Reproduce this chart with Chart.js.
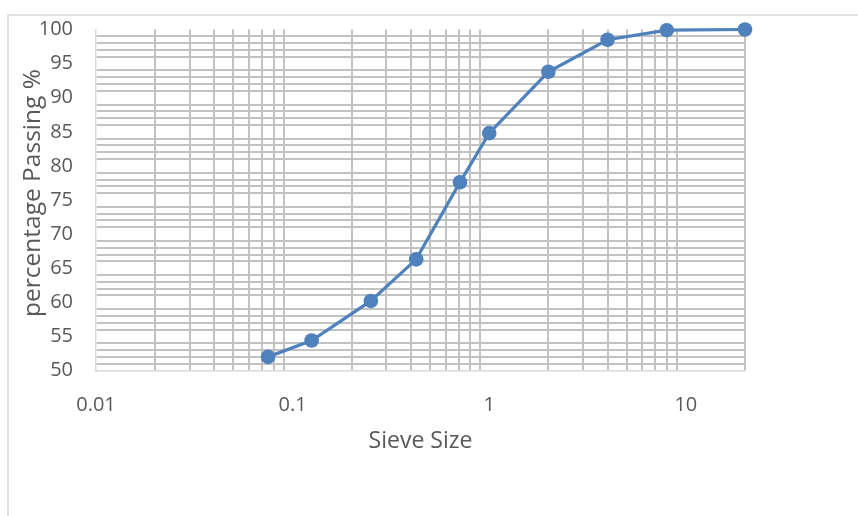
<!DOCTYPE html>
<html>
<head>
<meta charset="utf-8">
<script src="https://cdn.jsdelivr.net/npm/chart.js@4.4.1/dist/chart.umd.min.js"></script>
<style>
  html, body { margin: 0; padding: 0; background: #ffffff; }
  #wrap { width: 858px; height: 516px; }
</style>
</head>
<body>
<div id="wrap"><canvas id="grading" width="858" height="516"></canvas></div>
<script>
// Sieve analysis: grain size (mm) against cumulative percentage passing
const sieveSizes     = [0.075, 0.125, 0.25, 0.425, 0.71, 1, 2, 4, 8, 20];
const percentPassing = [52.0, 54.4, 60.2, 66.3, 77.6, 84.8, 93.8, 98.5, 99.9, 100];

// Labelled ticks on each axis
const xTickLabels = [0.01, 0.1, 1, 10];
const yTickLabels = [50, 55, 60, 65, 70, 75, 80, 85, 90, 95, 100];

const X_MIN = 0.01, X_MAX = 20;
const Y_MIN = 50, Y_MAX = 100;

const X_TITLE = 'Sieve Size';
const Y_TITLE = 'percentage Passing %';

// wanted plot rectangle inside the 858 x 516 canvas
const PLOT = { left: 96, top: 29.5, right: 745, bottom: 370.5 };

const TEXT = '#595959';
const GRID = '#c2c2c2';
const AXIS = '#d9d9d9';
const SERIES = '#4f81bd';
const CLEAR = 'rgba(0,0,0,0)';
const FONT = '"Open Sans", "DejaVu Sans", sans-serif';

// log-cycle minor ticks: 1..9 x 10^n between the axis limits
function logCycleTicks(min, max) {
  const out = [];
  for (let e = Math.floor(Math.log10(min)); e <= Math.ceil(Math.log10(max)); e++) {
    for (let m = 1; m <= 9; m++) {
      const v = parseFloat((m * Math.pow(10, e)).toPrecision(6));
      if (v >= min - 1e-12 && v <= max + 1e-12) out.push({ value: v });
    }
  }
  return out;
}
const isLabelled = (list, v) => list.some(t => Math.abs(t - v) < 1e-9 * Math.max(1, t));

// light frame around the whole chart, and the rotated value-axis title
const decor = {
  id: 'decor',
  beforeDraw(chart) {
    const c = chart.ctx;
    c.save();
    c.strokeStyle = AXIS;
    c.lineWidth = 1.5;
    c.strokeRect(8, 15, 1000, 1000);
    c.restore();
  },
  afterDraw(chart) {
    const c = chart.ctx;
    c.save();
    c.translate(33, 193);
    c.rotate(-Math.PI / 2);
    c.fillStyle = TEXT;
    c.font = '24.5px ' + FONT;
    c.textAlign = 'center';
    c.textBaseline = 'middle';
    c.fillText(Y_TITLE, 0, 0);
    c.restore();
  }
};

const pad = { left: 0, top: PLOT.top, right: 858 - PLOT.right, bottom: 0 };
let yAxisWidth = PLOT.left;
let xAxisHeight = 516 - PLOT.bottom;

const cfg = {
  type: 'scatter',
  data: {
    datasets: [{
      data: sieveSizes.map((s, i) => ({ x: s, y: percentPassing[i] })),
      showLine: true,
      borderColor: SERIES,
      backgroundColor: SERIES,
      borderWidth: 3.25,
      pointRadius: 7.3,
      pointHoverRadius: 7.3,
      pointBorderWidth: 0,
      pointBackgroundColor: SERIES,
      tension: 0,
      clip: false
    }]
  },
  options: {
    responsive: false,
    animation: false,
    events: [],
    layout: { padding: pad },
    plugins: { legend: { display: false }, tooltip: { enabled: false } },
    scales: {
      x: {
        type: 'logarithmic',
        min: X_MIN,
        max: X_MAX,
        afterBuildTicks(scale) { scale.ticks = logCycleTicks(X_MIN, X_MAX); },
        afterFit(scale) { scale.height = xAxisHeight; },
        grid: {
          drawTicks: true,
          tickLength: 20,
          tickColor: CLEAR,
          lineWidth: 2,
          color: ctx => (ctx.tick && isLabelled(xTickLabels, ctx.tick.value)) ? CLEAR : GRID
        },
        border: { display: true, color: AXIS, width: 1.5 },
        ticks: {
          autoSkip: false,
          maxRotation: 0,
          padding: 3,
          color: TEXT,
          font: { family: FONT, size: 20 },
          callback: v => isLabelled(xTickLabels, v) ? String(v) : ''
        },
        title: {
          display: true,
          text: X_TITLE,
          color: TEXT,
          font: { family: FONT, size: 23 },
          padding: { top: 0, bottom: 61 }
        }
      },
      y: {
        type: 'linear',
        min: Y_MIN,
        max: Y_MAX,
        afterFit(scale) { scale.width = yAxisWidth; },
        grid: {
          drawTicks: true,
          tickLength: 20,
          tickColor: CLEAR,
          lineWidth: 2,
          color: ctx => (ctx.tick && isLabelled(yTickLabels, ctx.tick.value)) ? CLEAR : GRID
        },
        border: { display: true, color: AXIS, width: 1.5 },
        ticks: {
          stepSize: 1,
          autoSkip: false,
          padding: 3,
          color: TEXT,
          font: { family: FONT, size: 20 },
          callback: v => isLabelled(yTickLabels, v) ? String(v) : ''
        },
        title: { display: false }
      }
    }
  },
  plugins: [decor]
};

const chart = new Chart(document.getElementById('grading'), cfg);

// settle the plot rectangle on the wanted edges
for (let pass = 0; pass < 3; pass++) {
  const ca = chart.chartArea;
  pad.top += PLOT.top - ca.top;
  xAxisHeight += ca.bottom - PLOT.bottom;
  yAxisWidth += PLOT.left - ca.left;
  pad.right += ca.right - PLOT.right;
  chart.update();
}
</script>
</body>
</html>
